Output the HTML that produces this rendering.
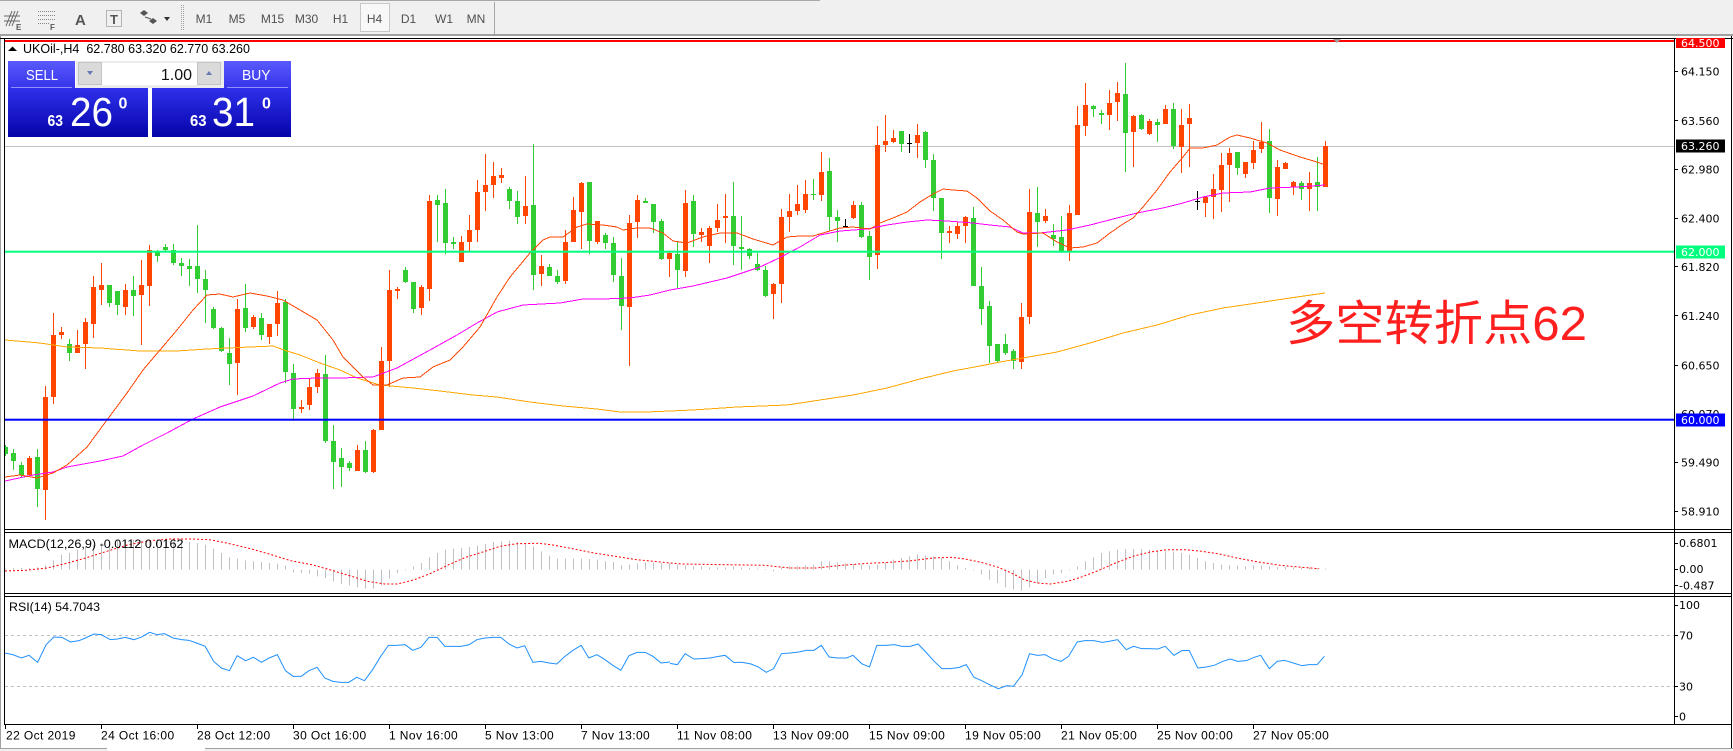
<!DOCTYPE html>
<html><head><meta charset="utf-8">
<style>
html,body{margin:0;padding:0;width:1733px;height:751px;overflow:hidden;background:#fff}
svg{display:block}
text{font-family:"Liberation Sans",sans-serif}
.ax{font-family:"DejaVu Sans",sans-serif;font-size:11px;fill:#000}
.tl{font-size:12px;letter-spacing:0.4px;fill:#000}
.tb{font-size:12px;fill:#505050}
</style></head><body>
<svg width="1733" height="751" viewBox="0 0 1733 751" xmlns="http://www.w3.org/2000/svg">
<defs>
<linearGradient id="gb" x1="0" y1="0" x2="0" y2="1"><stop offset="0" stop-color="#5a5aff"/><stop offset="1" stop-color="#3535ea"/></linearGradient>
<linearGradient id="gp" x1="0" y1="0" x2="0" y2="1"><stop offset="0" stop-color="#3030ec"/><stop offset="1" stop-color="#0404aa"/></linearGradient>
<clipPath id="cm"><rect x="5" y="39" width="1669" height="490"/></clipPath>
<clipPath id="cs"><rect x="5" y="533" width="1669" height="191"/></clipPath>
</defs>

<!-- toolbar -->
<rect x="0" y="0" width="1733" height="34" fill="#f0f0f0"/>
<line x1="0" y1="0.5" x2="820" y2="0.5" stroke="#a8a8a8"/>
<rect x="0" y="34" width="1733" height="2" fill="#a0a0a0"/>
<g fill="none" stroke="#666" stroke-width="1">
<path d="M6 26L12 11M9 26L15 11M12 26L18 11M4 21H20M4 16H20"/>
</g>
<text x="16" y="30" font-size="8" font-weight="bold" fill="#555">E</text>
<g stroke="#888" stroke-dasharray="1 1"><path d="M38 11.5H55M38 15.5H55M38 19.5H55M38 23.5H50"/></g>
<text x="50" y="30" font-size="8" font-weight="bold" fill="#555">F</text>
<text x="75" y="25" font-size="15" font-weight="bold" fill="#555">A</text>
<rect x="106.5" y="10.5" width="15" height="16" fill="none" stroke="#777" stroke-dasharray="1 1"/>
<text x="114" y="24" font-size="13" font-weight="bold" fill="#555" text-anchor="middle">T</text>
<path d="M140 13l4-3 4 3-4 3zM149 21l4-3 4 3-4 3z" fill="#555"/>
<path d="M145 17l6 2" stroke="#555"/>
<path d="M164 17h6l-3 4z" fill="#333"/>
<g stroke="#a0a0a0" stroke-dasharray="1 1"><path d="M181.5 5V31M183.5 5V31"/></g>
<rect x="360.5" y="3.5" width="29" height="28" fill="#f8f8f8" stroke="#c8c8c8"/>
<text class="tb" x="204" y="23" text-anchor="middle">M1</text>
<text class="tb" x="237" y="23" text-anchor="middle">M5</text>
<text class="tb" x="272.5" y="23" text-anchor="middle">M15</text>
<text class="tb" x="306.5" y="23" text-anchor="middle">M30</text>
<text class="tb" x="340.5" y="23" text-anchor="middle">H1</text>
<text class="tb" x="374.5" y="23" text-anchor="middle">H4</text>
<text class="tb" x="408.5" y="23" text-anchor="middle">D1</text>
<text class="tb" x="444" y="23" text-anchor="middle">W1</text>
<text class="tb" x="476" y="23" text-anchor="middle">MN</text>
<line x1="494.5" y1="2" x2="494.5" y2="34" stroke="#a8a8a8"/>

<!-- window frame -->
<line x1="0.5" y1="36" x2="0.5" y2="749" stroke="#a0a0a0"/>
<line x1="0" y1="38.5" x2="1733" y2="38.5" stroke="#000"/>
<line x1="4.5" y1="38" x2="4.5" y2="725" stroke="#000"/>
<line x1="1674.5" y1="38" x2="1674.5" y2="725" stroke="#000"/>
<line x1="1731.5" y1="36" x2="1731.5" y2="749" stroke="#000"/>
<line x1="4" y1="529.5" x2="1732" y2="529.5" stroke="#000"/>
<line x1="4" y1="532.5" x2="1732" y2="532.5" stroke="#000"/>
<line x1="4" y1="593.5" x2="1732" y2="593.5" stroke="#000"/>
<line x1="4" y1="596.5" x2="1732" y2="596.5" stroke="#000"/>
<line x1="4" y1="724.5" x2="1732" y2="724.5" stroke="#000"/>
<line x1="0" y1="748.5" x2="1733" y2="748.5" stroke="#a0a0a0"/>
<rect x="0" y="749" width="1733" height="2" fill="#f0f0f0"/>
<rect x="107" y="748" width="98" height="3" fill="#fff"/>

<!-- main chart -->
<g clip-path="url(#cm)">
<line x1="5" y1="146.5" x2="1674" y2="146.5" stroke="#c0c0c0"/>
<g shape-rendering="crispEdges">
<path fill="#32cd32" d="M3 447h5v7h-5zM11 453h5v8h-5zM19 465h5v10h-5zM35 457h5v32h-5zM67 344h5v9h-5zM107 285h5v18h-5zM115 291h5v14h-5zM131 290h5v6h-5zM155 251h5v5h-5zM163 247h5v3h-5zM171 250h5v13h-5zM179 263h5v3h-5zM187 266h5v3h-5zM195 266h5v13h-5zM203 279h5v11h-5zM211 309h5v19h-5zM219 328h5v23h-5zM227 353h5v11h-5zM243 308h5v20h-5zM259 318h5v17h-5zM283 302h5v70h-5zM291 373h5v36h-5zM323 374h5v67h-5zM331 441h5v21h-5zM339 458h5v9h-5zM347 463h5v5h-5zM363 450h5v22h-5zM403 270h5v12h-5zM411 282h5v27h-5zM435 200h5v5h-5zM443 203h5v40h-5zM451 242h5v2h-5zM507 189h5v12h-5zM515 201h5v16h-5zM531 205h5v70h-5zM547 267h5v9h-5zM555 276h5v6h-5zM587 182h5v59h-5zM603 235h5v8h-5zM611 243h5v32h-5zM619 276h5v30h-5zM643 201h5v2h-5zM651 204h5v18h-5zM659 221h5v38h-5zM675 254h5v16h-5zM691 201h5v33h-5zM731 216h5v30h-5zM739 247h5v2h-5zM747 249h5v7h-5zM755 264h5v6h-5zM763 270h5v26h-5zM811 194h5v1h-5zM827 171h5v46h-5zM835 217h5v4h-5zM859 205h5v32h-5zM867 236h5v21h-5zM899 131h5v13h-5zM923 132h5v28h-5zM931 160h5v38h-5zM939 198h5v35h-5zM971 218h5v68h-5zM979 286h5v23h-5zM987 306h5v40h-5zM995 344h5v17h-5zM1003 344h5v9h-5zM1011 351h5v10h-5zM1035 213h5v9h-5zM1051 235h5v4h-5zM1059 237h5v14h-5zM1091 106h5v3h-5zM1099 113h5v2h-5zM1123 94h5v39h-5zM1139 115h5v14h-5zM1155 122h5v3h-5zM1171 109h5v37h-5zM1235 152h5v16h-5zM1267 141h5v57h-5zM1299 183h5v6h-5zM1315 182h5v5h-5z"/>
<path stroke="#32cd32" fill="none" d="M5.5 445V456M13.5 449V470M21.5 462V477M37.5 449V507M69.5 339V361M109.5 285V307M117.5 291V315M133.5 276V316M157.5 250V262M165.5 244V252M173.5 244V265M181.5 258V276M189.5 259V286M197.5 225V293M205.5 270V323M213.5 307V329M221.5 327V352M229.5 338V385M245.5 284V332M261.5 313V340M285.5 299V383M293.5 364V421M325.5 355V443M333.5 425V489M341.5 448V487M349.5 461V471M365.5 441V473M405.5 267V283M413.5 282V313M437.5 195V242M445.5 189V254M453.5 237V249M509.5 187V209M517.5 191V224M533.5 144V290M549.5 264V276M557.5 270V284M589.5 182V254M605.5 233V249M613.5 237V282M621.5 258V330M645.5 198V203M653.5 204V233M661.5 219V260M677.5 242V289M693.5 195V247M733.5 182V265M741.5 216V270M749.5 248V259M757.5 253V271M765.5 266V297M813.5 179V200M829.5 158V231M837.5 210V242M861.5 202V238M869.5 231V280M901.5 131V152M925.5 131V168M933.5 154V211M941.5 198V259M973.5 207V286M981.5 267V325M989.5 301V363M997.5 344V363M1005.5 334V355M1013.5 349V369M1037.5 187V247M1053.5 224V246M1061.5 216V253M1093.5 105V117M1101.5 110V124M1125.5 63V172M1141.5 114V130M1157.5 119V142M1173.5 103V149M1237.5 152V175M1269.5 129V213M1301.5 181V200M1317.5 157V211"/>
<path fill="#ff4500" d="M27 458h5v17h-5zM43 397h5v93h-5zM51 335h5v62h-5zM59 332h5v3h-5zM75 345h5v8h-5zM83 322h5v22h-5zM91 287h5v37h-5zM99 285h5v5h-5zM123 290h5v17h-5zM139 285h5v10h-5zM147 250h5v36h-5zM235 309h5v54h-5zM251 317h5v10h-5zM267 324h5v13h-5zM275 303h5v21h-5zM299 407h5v2h-5zM307 387h5v18h-5zM315 373h5v14h-5zM355 450h5v21h-5zM371 430h5v42h-5zM379 361h5v69h-5zM387 290h5v71h-5zM395 289h5v2h-5zM419 287h5v21h-5zM427 201h5v88h-5zM459 242h5v20h-5zM467 230h5v12h-5zM475 192h5v38h-5zM483 185h5v7h-5zM491 176h5v9h-5zM499 175h5v3h-5zM523 206h5v10h-5zM539 266h5v8h-5zM563 242h5v39h-5zM571 210h5v32h-5zM579 183h5v29h-5zM595 221h5v21h-5zM627 223h5v84h-5zM635 200h5v22h-5zM667 253h5v6h-5zM683 203h5v68h-5zM699 232h5v3h-5zM707 228h5v18h-5zM715 220h5v8h-5zM723 216h5v2h-5zM771 284h5v10h-5zM779 217h5v67h-5zM787 211h5v6h-5zM795 204h5v7h-5zM803 194h5v16h-5zM819 172h5v23h-5zM851 205h5v13h-5zM875 145h5v110h-5zM883 141h5v4h-5zM891 138h5v4h-5zM915 135h5v8h-5zM947 231h5v2h-5zM955 226h5v8h-5zM963 217h5v9h-5zM1019 317h5v45h-5zM1027 212h5v105h-5zM1043 216h5v5h-5zM1067 213h5v38h-5zM1075 125h5v90h-5zM1083 105h5v21h-5zM1107 103h5v12h-5zM1115 93h5v9h-5zM1131 116h5v16h-5zM1147 121h5v13h-5zM1163 109h5v15h-5zM1179 125h5v22h-5zM1187 118h5v6h-5zM1203 197h5v6h-5zM1211 189h5v8h-5zM1219 165h5v25h-5zM1227 153h5v12h-5zM1243 162h5v12h-5zM1251 150h5v13h-5zM1259 142h5v7h-5zM1275 167h5v32h-5zM1283 163h5v6h-5zM1291 182h5v5h-5zM1307 183h5v6h-5zM1323 146h5v41h-5z"/>
<path stroke="#ff4500" fill="none" d="M29.5 456V476M45.5 386V520M53.5 313V404M61.5 327V339M77.5 330V353M85.5 318V369M93.5 276V338M101.5 263V305M125.5 284V315M141.5 260V345M149.5 245V306M237.5 299V395M253.5 315V329M269.5 324V344M277.5 291V336M301.5 400V413M309.5 379V410M317.5 369V393M357.5 445V471M373.5 429V473M381.5 347V430M389.5 270V387M397.5 287V299M421.5 285V315M429.5 195V301M461.5 236V262M469.5 215V251M477.5 180V242M485.5 154V211M493.5 162V198M501.5 168V183M525.5 176V224M541.5 255V286M565.5 230V284M573.5 197V242M581.5 182V249M597.5 221V244M629.5 215V366M637.5 195V238M669.5 252V277M685.5 190V277M701.5 228V242M709.5 226V263M717.5 204V232M725.5 194V243M773.5 283V319M781.5 209V303M789.5 194V232M797.5 185V215M805.5 180V213M821.5 152V201M853.5 201V219M877.5 126V269M885.5 115V152M893.5 130V143M917.5 124V158M949.5 226V243M957.5 222V239M965.5 216V243M1021.5 303V369M1029.5 189V324M1045.5 209V223M1069.5 205V261M1077.5 106V215M1085.5 83V136M1109.5 90V130M1117.5 82V121M1133.5 115V167M1149.5 119V135M1165.5 105V124M1181.5 109V173M1189.5 104V167M1205.5 196V217M1213.5 174V219M1221.5 153V212M1229.5 148V202M1245.5 162V178M1253.5 141V169M1261.5 122V153M1277.5 160V216M1285.5 162V169M1293.5 181V195M1309.5 172V211M1325.5 141V187"/>
<path stroke="#000" fill="none" d="M843 226.5h5M845.5 219V227M907 143.5h5M909.5 134V153M1195 201.5h5M1197.5 191V210"/>
</g>
<g fill="none" stroke-width="1" shape-rendering="crispEdges">
<polyline stroke="#ffa500" points="5,340 40,343 67,347 100,348 140,351 177,351 207,349 250,347 273,346 287,351 300,355 320,363 340,370 357,378 380,385 413,388 440,391 473,395 497,397 530,402 563,406 597,409 620,412 647,412 670,411 693,410 737,407 787,405 820,400 853,395 887,388 920,379 953,371 980,366 1000,362 1023,358 1057,352 1090,343 1123,333 1157,325 1190,315 1223,308 1257,303 1290,298 1325,293"/>
<polyline stroke="#ff00ff" points="5,481 33,475 53,472 67,467 100,461 123,456 143,445 167,433 193,419 220,407 253,396 280,383 293,379 317,378 340,378 373,377 397,368 430,350 457,335 477,323 497,312 523,305 560,303 583,299 603,299 630,298 650,295 670,290 693,286 727,278 760,267 777,259 800,247 820,235 840,231 867,229 887,225 907,222 927,220 947,221 973,223 990,225 1010,227 1023,233 1040,233 1067,230 1090,225 1117,218 1137,213 1163,208 1183,203 1203,197 1223,193 1250,192 1270,188 1297,187 1325,185"/>
<polyline stroke="#ff4500" points="5,477 20,475 37,478 53,473 67,465 87,447 107,420 127,393 143,370 160,350 177,330 193,310 207,295 220,294 233,297 250,293 267,296 283,300 300,310 317,320 333,340 343,357 363,377 373,385 387,385 403,378 420,377 433,367 450,360 463,347 480,327 497,297 510,277 530,253 543,240 550,237 563,237 577,227 587,224 603,225 617,227 623,230 637,228 650,228 663,233 673,241 687,243 703,237 720,233 737,233 753,239 773,245 787,237 800,236 813,236 823,233 840,228 853,227 870,229 880,223 893,218 907,212 920,202 933,194 943,189 953,190 967,191 977,198 990,211 1003,220 1017,232 1023,234 1043,233 1057,242 1070,248 1083,247 1097,243 1110,233 1123,224 1133,218 1143,207 1157,190 1170,172 1183,157 1190,148 1203,148 1217,145 1230,137 1237,135 1250,138 1267,143 1280,150 1300,157 1317,162 1325,165"/>
</g>
<rect x="5" y="40" width="1669" height="2" fill="#ff0000"/>
<rect x="5" y="250.7" width="1669" height="2" fill="#00ff7f"/>
<rect x="5" y="418.7" width="1669" height="2" fill="#0000ff"/>
<path d="M1333 39h8l-4 4z" fill="#a0a0a0"/>
<text x="1286" y="340" font-size="48" textLength="301" lengthAdjust="spacingAndGlyphs" fill="#ff1f1f" style="font-family:'Liberation Sans','Noto Sans CJK SC',sans-serif">多空转折点62</text>
</g>

<!-- header -->
<path d="M8 51h9l-4.5-4.5z" fill="#000"/>
<text x="23" y="53" font-size="12.5" textLength="227" lengthAdjust="spacingAndGlyphs" xml:space="preserve">UKOil-,H4  62.780 63.320 62.770 63.260</text>

<!-- trade panel -->
<rect x="8" y="61" width="67" height="27" fill="url(#gb)"/>
<line x1="11" y1="87.5" x2="72" y2="87.5" stroke="#9090ff"/>
<text x="26" y="80" font-size="15" fill="#fff" textLength="32" lengthAdjust="spacingAndGlyphs">SELL</text>
<rect x="224" y="61" width="67" height="27" fill="url(#gb)"/>
<line x1="227" y1="87.5" x2="288" y2="87.5" stroke="#9090ff"/>
<text x="242" y="80" font-size="15" fill="#fff" textLength="28.5" lengthAdjust="spacingAndGlyphs">BUY</text>
<rect x="76" y="61" width="148" height="27" fill="#ececec"/>
<rect x="78.5" y="62.5" width="23" height="22" fill="#dadada" stroke="#c4c4c4"/>
<path d="M87 71h6l-3 4z" fill="#6877b5"/>
<rect x="102" y="63" width="95" height="22" fill="#fff"/>
<text x="192" y="80" font-size="16" fill="#111" text-anchor="end">1.00</text>
<rect x="197.5" y="62.5" width="23" height="22" fill="#dadada" stroke="#c4c4c4"/>
<path d="M206 75h6l-3-4z" fill="#6877b5"/>
<rect x="8" y="88" width="140" height="49" fill="url(#gp)"/>
<rect x="152" y="88" width="139" height="49" fill="url(#gp)"/>
<text x="47.5" y="126" font-size="15.5" font-weight="bold" fill="#fff" textLength="15.5" lengthAdjust="spacingAndGlyphs">63</text>
<text x="70" y="126" font-size="41" fill="#fff" textLength="43" lengthAdjust="spacingAndGlyphs">26</text>
<text x="118.5" y="108.5" font-size="16" font-weight="bold" fill="#fff">0</text>
<text x="190" y="126" font-size="15.5" font-weight="bold" fill="#fff" textLength="16.5" lengthAdjust="spacingAndGlyphs">63</text>
<text x="212" y="126" font-size="41" fill="#fff" textLength="43" lengthAdjust="spacingAndGlyphs">31</text>
<text x="262" y="108.5" font-size="16" font-weight="bold" fill="#fff">0</text>

<!-- price axis -->
<g stroke="#000"><path d="M1674 71.5h4M1674 120.5h4M1674 169.5h4M1674 218.5h4M1674 266.5h4M1674 315.5h4M1674 365.5h4M1674 462.5h4M1674 511.5h4M1674 543.5h4M1674 569.5h4M1674 585.5h4M1674 605.5h4M1674 635.5h4M1674 686.5h4M1674 716.5h4"/></g>
<text class="ax" x="1681" y="75.5">64.150</text>
<text class="ax" x="1681" y="125">63.560</text>
<text class="ax" x="1681" y="173.5">62.980</text>
<text class="ax" x="1681" y="222.5">62.400</text>
<text class="ax" x="1681" y="271">61.820</text>
<text class="ax" x="1681" y="320">61.240</text>
<text class="ax" x="1681" y="369.5">60.650</text>
<text class="ax" x="1681" y="418">60.070</text>
<text class="ax" x="1681" y="466.5">59.490</text>
<text class="ax" x="1681" y="515.5">58.910</text>
<rect x="1676" y="38" width="49" height="10" fill="#ff0000"/>
<text class="ax" x="1681" y="47" style="fill:#fff">64.500</text>
<rect x="1676" y="139.5" width="49" height="13" fill="#000"/>
<text class="ax" x="1681" y="150" style="fill:#fff">63.260</text>
<rect x="1676" y="245.5" width="49" height="13" fill="#00ff7f"/>
<text class="ax" x="1681" y="256" style="fill:#fff">62.000</text>
<rect x="1676" y="413.5" width="49" height="13" fill="#0000ff"/>
<text class="ax" x="1681" y="424" style="fill:#fff">60.000</text>
<text class="ax" x="1679" y="547">0.6801</text>
<text class="ax" x="1679" y="573">0.00</text>
<text class="ax" x="1679" y="589.5">-0.487</text>
<text class="ax" x="1679" y="609">100</text>
<text class="ax" x="1679" y="639.5">70</text>
<text class="ax" x="1679" y="690.5">30</text>
<text class="ax" x="1679" y="720.5">0</text>

<!-- MACD / RSI -->
<g clip-path="url(#cs)">
<g transform="matrix(1 0 0 0.333333 0 528)">
<path fill="none" stroke="#c0c0c0" vector-effect="non-scaling-stroke" d="M5.5 125V122M13.5 125V120M21.5 125V120M29.5 125V120M37.5 125V118M45.5 125V112M53.5 125V97M61.5 125V80M69.5 125V75M77.5 125V65M85.5 125V55M93.5 125V50M101.5 125V45M109.5 125V40M117.5 125V38M125.5 125V37M133.5 125V36M141.5 125V38M149.5 125V40M157.5 125V38M165.5 125V38M173.5 125V40M181.5 125V40M189.5 125V42M197.5 125V45M205.5 125V50M213.5 125V62M221.5 125V75M229.5 125V88M237.5 125V92M245.5 125V97M253.5 125V100M261.5 125V102M269.5 125V105M277.5 125V107M285.5 125V112M293.5 125V133M301.5 125V135M309.5 125V137M317.5 125V145M325.5 125V150M333.5 125V160M341.5 125V168M349.5 125V172M357.5 125V178M365.5 125V182M373.5 125V182M381.5 125V172M389.5 125V152M397.5 125V135M405.5 125V127M413.5 125V115M421.5 125V105M429.5 125V88M437.5 125V75M445.5 125V65M453.5 125V62M461.5 125V60M469.5 125V57M477.5 125V53M485.5 125V48M493.5 125V42M501.5 125V40M509.5 125V38M517.5 125V42M525.5 125V45M533.5 125V55M541.5 125V70M549.5 125V83M557.5 125V92M565.5 125V92M573.5 125V92M581.5 125V92M589.5 125V93M597.5 125V95M605.5 125V100M613.5 125V102M621.5 125V112M629.5 125V110M637.5 125V107M645.5 125V103M653.5 125V103M661.5 125V105M669.5 125V105M677.5 125V110M685.5 125V112M693.5 125V115M701.5 125V115M709.5 125V118M717.5 125V118M725.5 125V118M733.5 125V115M741.5 125V118M749.5 125V120M757.5 125V122M765.5 125V123M773.5 125V130M781.5 125V118M789.5 125V115M797.5 125V115M805.5 125V112M813.5 125V110M821.5 125V100M829.5 125V100M837.5 125V103M845.5 125V105M853.5 125V108M861.5 125V110M869.5 125V113M877.5 125V110M885.5 125V103M893.5 125V95M901.5 125V90M909.5 125V85M917.5 125V80M925.5 125V82M933.5 125V85M941.5 125V90M949.5 125V100M957.5 125V112M965.5 125V120M973.5 125V127M981.5 125V140M989.5 125V155M997.5 125V165M1005.5 125V178M1013.5 125V185M1021.5 125V188M1029.5 125V178M1037.5 125V165M1045.5 125V150M1053.5 125V140M1061.5 125V135M1069.5 125V127M1077.5 125V115M1085.5 125V100M1093.5 125V88M1101.5 125V75M1109.5 125V70M1117.5 125V65M1125.5 125V63M1133.5 125V63M1141.5 125V63M1149.5 125V65M1157.5 125V67M1165.5 125V70M1173.5 125V70M1181.5 125V75M1189.5 125V80M1197.5 125V90M1205.5 125V100M1213.5 125V105M1221.5 125V110M1229.5 125V112M1237.5 125V113M1245.5 125V115M1253.5 125V112M1261.5 125V112M1269.5 125V115M1277.5 125V117M1285.5 125V117M1293.5 125V118M1301.5 125V118M1309.5 125V118M1317.5 125V120M1325.5 125V122"/>
</g>
<polyline fill="none" stroke="#ff0000" stroke-dasharray="2 2" points="5,571 25.6,570.3 47,568 64,564 85.5,558 106.8,551.3 128.2,544.7 149.6,540.7 171,539 192.3,539 209.4,539.7 226.5,543 247.8,548 269.2,554 290.6,560.7 311.9,564.7 333.3,570.7 354.7,577.3 367.5,581.3 384.6,584 397.4,584 414.5,579.7 431.6,573 448.7,564.7 465.8,557.3 482.8,552 500,546.3 517,543.7 538.4,543.3 551.2,544.7 572.6,548.7 594,553 615.3,556.3 636.7,559.7 653.8,561.3 670,563 681.7,564 725,564.7 764,565.3 790,568 816,568 842,565.3 868,563.3 890,562.3 911.5,560.7 933.2,558 950.6,557.3 963.6,558.7 981,562.3 998.3,567.3 1011.3,573 1024.3,579.7 1037.3,583 1050.3,584 1067.7,581.3 1080.7,577.3 1098,570.7 1115.4,563 1132.7,556.3 1150,552 1167.4,549.7 1184.8,549.7 1202,551.3 1219.5,554 1236.8,558 1258.5,562 1280.2,565.3 1301.9,567.3 1319.2,568.7"/>
<g stroke="#c0c0c0" stroke-dasharray="3 3"><path d="M5 635.5H1674M5 686.5H1674"/></g>
<g transform="matrix(0.4273 0 0 0.333333 0 528)">
<polyline fill="none" stroke="#1e90ff" vector-effect="non-scaling-stroke" points="10,375 30,380 50,390 68,382 88,403 108,350 126,327 145,328 165,342 185,338 200,330 220,318 237,320 258,335 275,333 293,328 313,335 330,328 350,313 368,320 385,317 405,330 425,335 442,337 460,345 480,355 500,400 518,420 537,428 555,383 575,398 593,388 612,403 630,390 649,380 668,428 686,445 705,445 723,428 742,418 760,450 779,460 797,463 816,463 835,448 853,458 872,425 891,385 909,352 928,352 948,350 966,367 985,358 1004,328 1023,328 1041,355 1060,355 1079,355 1098,350 1116,335 1135,330 1154,328 1172,328 1191,348 1210,360 1228,353 1247,403 1266,400 1285,405 1303,408 1322,385 1341,367 1360,352 1378,390 1397,380 1416,395 1434,412 1453,427 1472,383 1491,373 1510,373 1528,385 1547,405 1568,402"/>
</g>
<g transform="matrix(0.4337 0 0 0.333333 660 528)">
<polyline fill="none" stroke="#1e90ff" vector-effect="non-scaling-stroke" points="23,406 40,410 58,377 78,393 96,392 115,390 135,385 150,382 170,403 190,403 210,408 228,418 245,433 262,422 280,377 300,375 320,372 337,367 355,367 372,352 390,387 410,390 430,390 445,382 465,407 483,417 500,352 520,352 540,350 558,355 577,355 595,348 615,375 632,400 650,422 670,422 690,418 706,410 724,448 740,457 760,470 780,482 800,473 815,475 835,440 852,377 870,382 888,380 905,392 925,400 942,385 962,342 980,338 1000,338 1020,343 1035,340 1055,335 1075,365 1092,355 1110,362 1128,362 1148,363 1165,355 1185,382 1203,368 1220,367 1240,420 1260,417 1278,412 1298,400 1315,393 1332,400 1352,398 1370,388 1385,382 1405,422 1423,400 1440,397 1460,405 1480,413 1497,410 1515,410 1532,385"/>
</g>
</g>
<text x="8.5" y="548" font-size="11.5" textLength="175" lengthAdjust="spacingAndGlyphs">MACD(12,26,9) -0.0112 0.0162</text>
<text x="9" y="611" font-size="11.5" textLength="91" lengthAdjust="spacingAndGlyphs">RSI(14) 54.7043</text>

<!-- time axis -->
<g stroke="#000"><path d="M5.5 725v4M101.5 725v4M197.5 725v4M293.5 725v4M389.5 725v4M485.5 725v4M581.5 725v4M677.5 725v4M773.5 725v4M869.5 725v4M965.5 725v4M1061.5 725v4M1157.5 725v4M1253.5 725v4"/></g>
<text class="tl" x="6" y="739.5">22 Oct 2019</text>
<text class="tl" x="101" y="739.5">24 Oct 16:00</text>
<text class="tl" x="197" y="739.5">28 Oct 12:00</text>
<text class="tl" x="293" y="739.5">30 Oct 16:00</text>
<text class="tl" x="389" y="739.5">1 Nov 16:00</text>
<text class="tl" x="485" y="739.5">5 Nov 13:00</text>
<text class="tl" x="581" y="739.5">7 Nov 13:00</text>
<text class="tl" x="677" y="739.5">11 Nov 08:00</text>
<text class="tl" x="773" y="739.5">13 Nov 09:00</text>
<text class="tl" x="869" y="739.5">15 Nov 09:00</text>
<text class="tl" x="965" y="739.5">19 Nov 05:00</text>
<text class="tl" x="1061" y="739.5">21 Nov 05:00</text>
<text class="tl" x="1157" y="739.5">25 Nov 00:00</text>
<text class="tl" x="1253" y="739.5">27 Nov 05:00</text>
</svg>
</body></html>
